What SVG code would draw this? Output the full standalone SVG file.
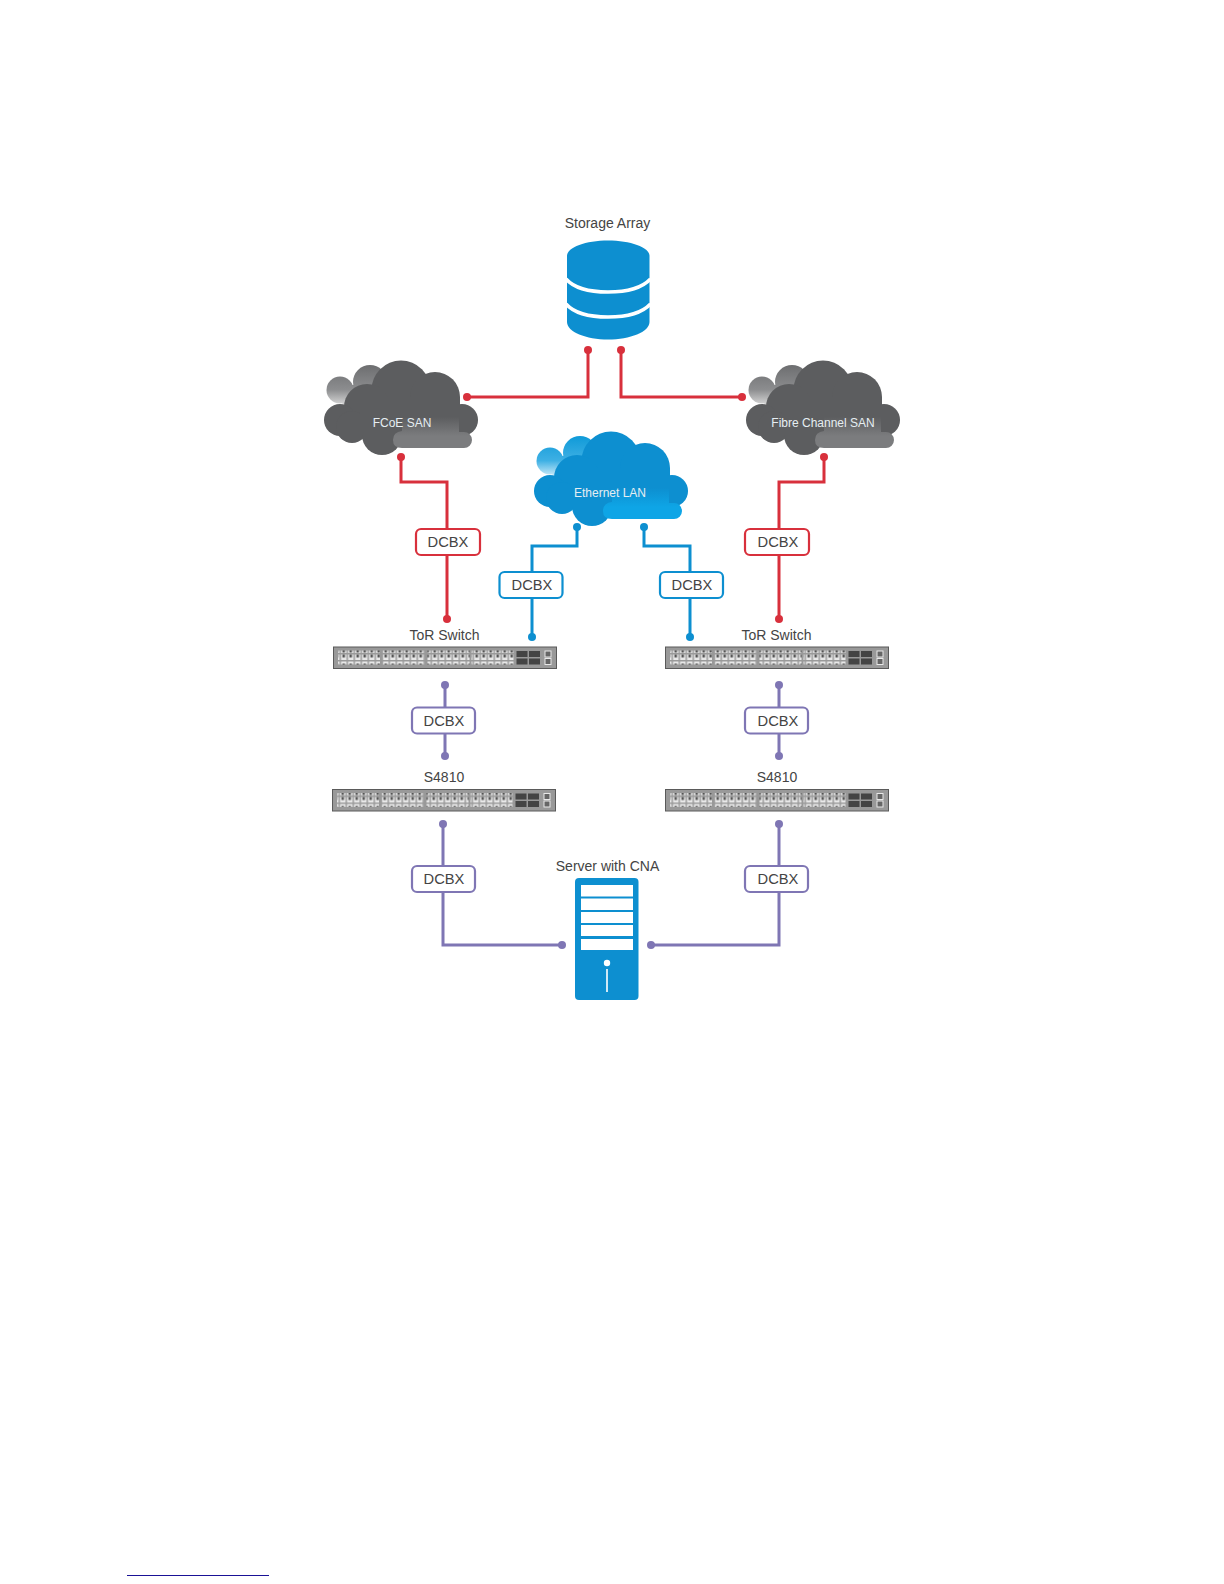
<svg xmlns="http://www.w3.org/2000/svg" width="1224" height="1584" viewBox="0 0 1224 1584">
<style>
text{font-family:"Liberation Sans",Arial,sans-serif;text-anchor:middle}
.lab{font-size:14px;fill:#444}
.cl{font-size:12px;fill:#e6eef2}
.dc{font-size:14.700px;fill:#444}
.wire{fill:none;stroke-width:3}
.red{stroke:#d8303c}.blue{stroke:#0d8fd0}.pur{stroke:#7f76b4}
.rd{fill:#d8303c}.bd{fill:#0d8fd0}.pd{fill:#7f76b4}
.box{fill:#fff;stroke-width:2.200}
</style>
<defs>
<linearGradient id="gb" gradientUnits="userSpaceOnUse" x1="0" y1="165" x2="0" y2="206"><stop offset="0" stop-color="#6d6e70"/><stop offset=".6" stop-color="#8c8d8f"/><stop offset="1" stop-color="#dcdcdc"/></linearGradient>
<linearGradient id="bb" gradientUnits="userSpaceOnUse" x1="0" y1="165" x2="0" y2="206"><stop offset="0" stop-color="#0f9ad8"/><stop offset=".6" stop-color="#3eb0e4"/><stop offset="1" stop-color="#d5eef9"/></linearGradient>
<linearGradient id="gl" gradientUnits="userSpaceOnUse" x1="0" y1="217" x2="0" y2="236"><stop offset="0" stop-color="#5c5d5f"/><stop offset="1" stop-color="#7b7c7e"/></linearGradient>
<linearGradient id="bl" gradientUnits="userSpaceOnUse" x1="0" y1="217" x2="0" y2="236"><stop offset="0" stop-color="#0d8fd0"/><stop offset="1" stop-color="#0ea5e6"/></linearGradient>
<g id="lobes"><circle cx="30" cy="190" r="13.500"/><circle cx="60" cy="182" r="17"/><path d="M17 193L36 206H80V185H42Z"/></g>
<g id="body"><circle cx="91" cy="190" r="29.500"/><circle cx="125" cy="197" r="25"/><circle cx="57" cy="207" r="23"/><circle cx="30" cy="220" r="16"/><circle cx="42" cy="227" r="16"/><circle cx="72" cy="235" r="20"/><circle cx="152" cy="220" r="16"/><rect x="50" y="197" width="100" height="38"/></g>
<path id="shade" d="M83 240Q83 232 92 231V217H149V232H154A8 8 0 0 1 154 248H92Q83 248 83 240Z"/>
<pattern id="ports" width="7" height="14" patternUnits="userSpaceOnUse"><rect width="7" height="14" fill="#9a9a9a"/><rect x=".5" y=".5" width="5.500" height="5.500" fill="#e8e8e8"/><rect x="2" y="2.500" width="2.500" height="3" fill="#555"/><rect x=".5" y="7.500" width="5.500" height="5.500" fill="#e8e8e8"/><rect x="2" y="7.500" width="2.500" height="3" fill="#555"/></pattern>
<g id="sw"><rect width="223" height="21.500" fill="#999" stroke="#5a5a5a" stroke-width="1"/>
<rect x="4.500" y="3.500" width="42" height="14" fill="url(#ports)"/><rect x="49" y="3.500" width="42" height="14" fill="url(#ports)"/><rect x="94" y="3.500" width="42" height="14" fill="url(#ports)"/><rect x="138" y="3.500" width="42" height="14" fill="url(#ports)"/>
<rect x="183" y="4" width="11" height="6" fill="#444"/><rect x="183" y="11.500" width="11" height="6" fill="#444"/><rect x="195.500" y="4" width="11" height="6" fill="#444"/><rect x="195.500" y="11.500" width="11" height="6" fill="#444"/>
<rect x="211.500" y="4" width="6" height="6" fill="#666" stroke="#e8e8e8"/><rect x="211.500" y="11.500" width="6" height="6" fill="#666" stroke="#e8e8e8"/></g>
</defs>
<g id="connectors">
<path class="wire red" d="M467 397H588V350M621 350V397H742M401 457V482H447V619M824 457V482H779V619"/>
<path class="wire blue" d="M577 527V546H532V637M644 527V546H690V637"/>
<path class="wire pur" d="M445 685V756M779 685V756M443 824V945H562M779 824V945H651"/>
<g class="rd"><circle cx="467" cy="397" r="4"/><circle cx="588" cy="350" r="4"/><circle cx="621" cy="350" r="4"/><circle cx="742" cy="397" r="4"/><circle cx="401" cy="457" r="4"/><circle cx="447" cy="619" r="4"/><circle cx="824" cy="457" r="4"/><circle cx="779" cy="619" r="4"/></g>
<g class="bd"><circle cx="577" cy="527" r="4"/><circle cx="532" cy="637" r="4"/><circle cx="644" cy="527" r="4"/><circle cx="690" cy="637" r="4"/></g>
<g class="pd"><circle cx="445" cy="685" r="4"/><circle cx="445" cy="756" r="4"/><circle cx="779" cy="685" r="4"/><circle cx="779" cy="756" r="4"/><circle cx="443" cy="824" r="4"/><circle cx="562" cy="945" r="4"/><circle cx="779" cy="824" r="4"/><circle cx="651" cy="945" r="4"/></g>
</g>
<g id="storage">
<text class="lab" x="607.500" y="228">Storage Array</text>
<path fill="#0d8fd0" d="M567 256C567 247 586 240.500 608 240.500S649.500 247 649.500 256V322C649.500 332 630 339.500 608 339.500S567 332 567 322Z"/>
<path fill="none" stroke="#fff" stroke-width="3.600" d="M566 279C574 288 590 292 608 292S642 288 650.500 279M566 304C574 313 590 317 608 317S642 313 650.500 304"/>
</g>
<g id="fcoe-san" transform="translate(310,200)">
<use href="#lobes" fill="url(#gb)"/><use href="#body" fill="#5c5d5f"/><use href="#shade" fill="url(#gl)"/>
<text class="cl" x="92" y="227">FCoE SAN</text>
</g>
<g id="fibre-channel-san" transform="translate(732,200)">
<use href="#lobes" fill="url(#gb)"/><use href="#body" fill="#5c5d5f"/><use href="#shade" fill="url(#gl)"/>
<text class="cl" x="91" y="227">Fibre Channel SAN</text>
</g>
<g id="ethernet-lan" transform="translate(520,271)">
<use href="#lobes" fill="url(#bb)"/><use href="#body" fill="#0d8fd0"/><use href="#shade" fill="url(#bl)"/>
<text class="cl" x="90" y="226">Ethernet LAN</text>
</g>
<g id="dcbx-boxes">
<g id="dcbx-1"><rect class="box red" x="416" y="529" width="64" height="26" rx="5"/><text class="dc" x="448" y="547">DCBX</text></g>
<g id="dcbx-2"><rect class="box red" x="745" y="529" width="64" height="26" rx="5"/><text class="dc" x="778" y="547">DCBX</text></g>
<g id="dcbx-3"><rect class="box blue" x="499.500" y="572" width="63" height="26" rx="5"/><text class="dc" x="532" y="590">DCBX</text></g>
<g id="dcbx-4"><rect class="box blue" x="660" y="572" width="63" height="26" rx="5"/><text class="dc" x="692" y="590">DCBX</text></g>
<g id="dcbx-5"><rect class="box pur" x="412" y="707.500" width="63" height="26" rx="5"/><text class="dc" x="444" y="726">DCBX</text></g>
<g id="dcbx-6"><rect class="box pur" x="745" y="707.500" width="63" height="26" rx="5"/><text class="dc" x="778" y="726">DCBX</text></g>
<g id="dcbx-7"><rect class="box pur" x="412" y="866" width="63" height="26" rx="5"/><text class="dc" x="444" y="884">DCBX</text></g>
<g id="dcbx-8"><rect class="box pur" x="745" y="866" width="63" height="26" rx="5"/><text class="dc" x="778" y="884">DCBX</text></g>
</g>
<g id="tor-left"><text class="lab" x="444.500" y="640">ToR Switch</text><use href="#sw" x="333.500" y="647"/></g>
<g id="tor-right"><text class="lab" x="776.500" y="640">ToR Switch</text><use href="#sw" x="665.500" y="647"/></g>
<g id="s4810-left"><text class="lab" x="444" y="782">S4810</text><use href="#sw" x="332.500" y="789.500"/></g>
<g id="s4810-right"><text class="lab" x="777" y="782">S4810</text><use href="#sw" x="665.500" y="789.500"/></g>
<g id="server">
<text class="lab" x="607.500" y="871">Server with CNA</text>
<rect x="575" y="878" width="63.500" height="122" rx="4" fill="#0d8fd0"/>
<g fill="#fff"><rect x="581" y="885" width="52" height="11.500"/><rect x="581" y="898.500" width="52" height="11.500"/><rect x="581" y="912" width="52" height="11"/><rect x="581" y="925" width="52" height="11"/><rect x="581" y="939" width="52" height="11"/><circle cx="607" cy="963" r="3.200"/><rect x="606.200" y="969" width="1.600" height="23"/></g>
</g>
<path id="footer-rule" d="M127 1575.500H269" stroke="#1a1296" stroke-width="1" fill="none"/>
</svg>
